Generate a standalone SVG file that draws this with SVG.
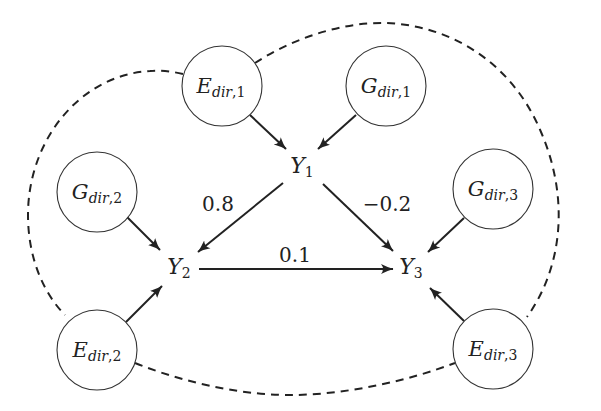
<svg xmlns="http://www.w3.org/2000/svg" width="601" height="411" viewBox="0 0 601 411">
<defs>
<style>
.node circle{fill:#fff;stroke:#333;stroke-width:1.1}
text{font-family:'DejaVu Serif',serif;fill:#222;text-anchor:middle}
.lbl{font-size:21px}
.ylbl{font-size:22px}
.it{font-style:italic}
.sub{font-size:14px}
.subi{font-size:14px;font-style:italic}
.num{font-size:20px}
.arr{stroke:#222;stroke-width:2;fill:none;marker-end:url(#ah)}
.dash{stroke:#222;stroke-width:2;fill:none;stroke-dasharray:8,6}
</style>
<marker id="ah" markerUnits="userSpaceOnUse" markerWidth="13" markerHeight="11" viewBox="0 0 13 11" refX="12" refY="5.5" orient="auto">
<path d="M0,0.5 Q7,4 12.5,5.5 Q7,7 0,10.5 Q4,5.5 0,0.5 z" fill="#222"/>
</marker>
</defs>
<rect width="601" height="411" fill="#fff"/>
<g id="connectors">
<path class="dash" d="M255,63 C290,40 340,22 385,23 C450,25 512,62 541,132 C567,192 566,262 527,317"/>
<path class="dash" d="M183,74 C170,71 160,70 150,71 C80,75 28,140 28,215 C28,260 45,295 65,315"/>
<path class="dash" d="M135,363 C190,385 250,396 295,395 C350,394 410,380 455,363"/>
<line class="arr" x1="250" y1="115" x2="286" y2="149"/>
<line class="arr" x1="356" y1="115" x2="318" y2="149"/>
<line class="arr" x1="126" y1="216" x2="160" y2="250"/>
<line class="arr" x1="283" y1="183" x2="198" y2="252"/>
<line class="arr" x1="199" y1="269" x2="393" y2="269"/>
<line class="arr" x1="323" y1="184" x2="393" y2="251"/>
<line class="arr" x1="126" y1="322" x2="162" y2="286"/>
<line class="arr" x1="464" y1="218" x2="428" y2="252"/>
<line class="arr" x1="464" y1="321" x2="430" y2="288"/>
</g>
<g id="labels">
<text class="num" x="218" y="211">0.8</text>
<text class="num" x="387" y="211">−0.2</text>
<text class="num" x="295" y="262">0.1</text>
</g>
<g id="E1" class="node"><circle cx="222" cy="86" r="40"/><text class="lbl" x="221" y="93"><tspan class="it">E</tspan><tspan class="subi" dy="4">dir</tspan><tspan class="sub">,1</tspan></text></g>
<g id="G1" class="node"><circle cx="386" cy="86" r="40"/><text class="lbl" x="386" y="93"><tspan class="it">G</tspan><tspan class="subi" dy="4">dir</tspan><tspan class="sub">,1</tspan></text></g>
<g id="G2" class="node"><circle cx="97" cy="192" r="40"/><text class="lbl" x="97" y="199"><tspan class="it">G</tspan><tspan class="subi" dy="4">dir</tspan><tspan class="sub">,2</tspan></text></g>
<g id="G3" class="node"><circle cx="493" cy="189" r="40"/><text class="lbl" x="493" y="196"><tspan class="it">G</tspan><tspan class="subi" dy="4">dir</tspan><tspan class="sub">,3</tspan></text></g>
<g id="E2" class="node"><circle cx="97" cy="350" r="40"/><text class="lbl" x="97" y="357"><tspan class="it">E</tspan><tspan class="subi" dy="4">dir</tspan><tspan class="sub">,2</tspan></text></g>
<g id="E3" class="node"><circle cx="493" cy="349" r="40"/><text class="lbl" x="493" y="356"><tspan class="it">E</tspan><tspan class="subi" dy="4">dir</tspan><tspan class="sub">,3</tspan></text></g>
<g id="Y1"><text class="ylbl" x="302" y="173"><tspan class="it">Y</tspan><tspan class="sub" dy="4">1</tspan></text></g>
<g id="Y2"><text class="ylbl" x="179" y="274"><tspan class="it">Y</tspan><tspan class="sub" dy="4">2</tspan></text></g>
<g id="Y3"><text class="ylbl" x="411" y="274"><tspan class="it">Y</tspan><tspan class="sub" dy="4">3</tspan></text></g>
</svg>
